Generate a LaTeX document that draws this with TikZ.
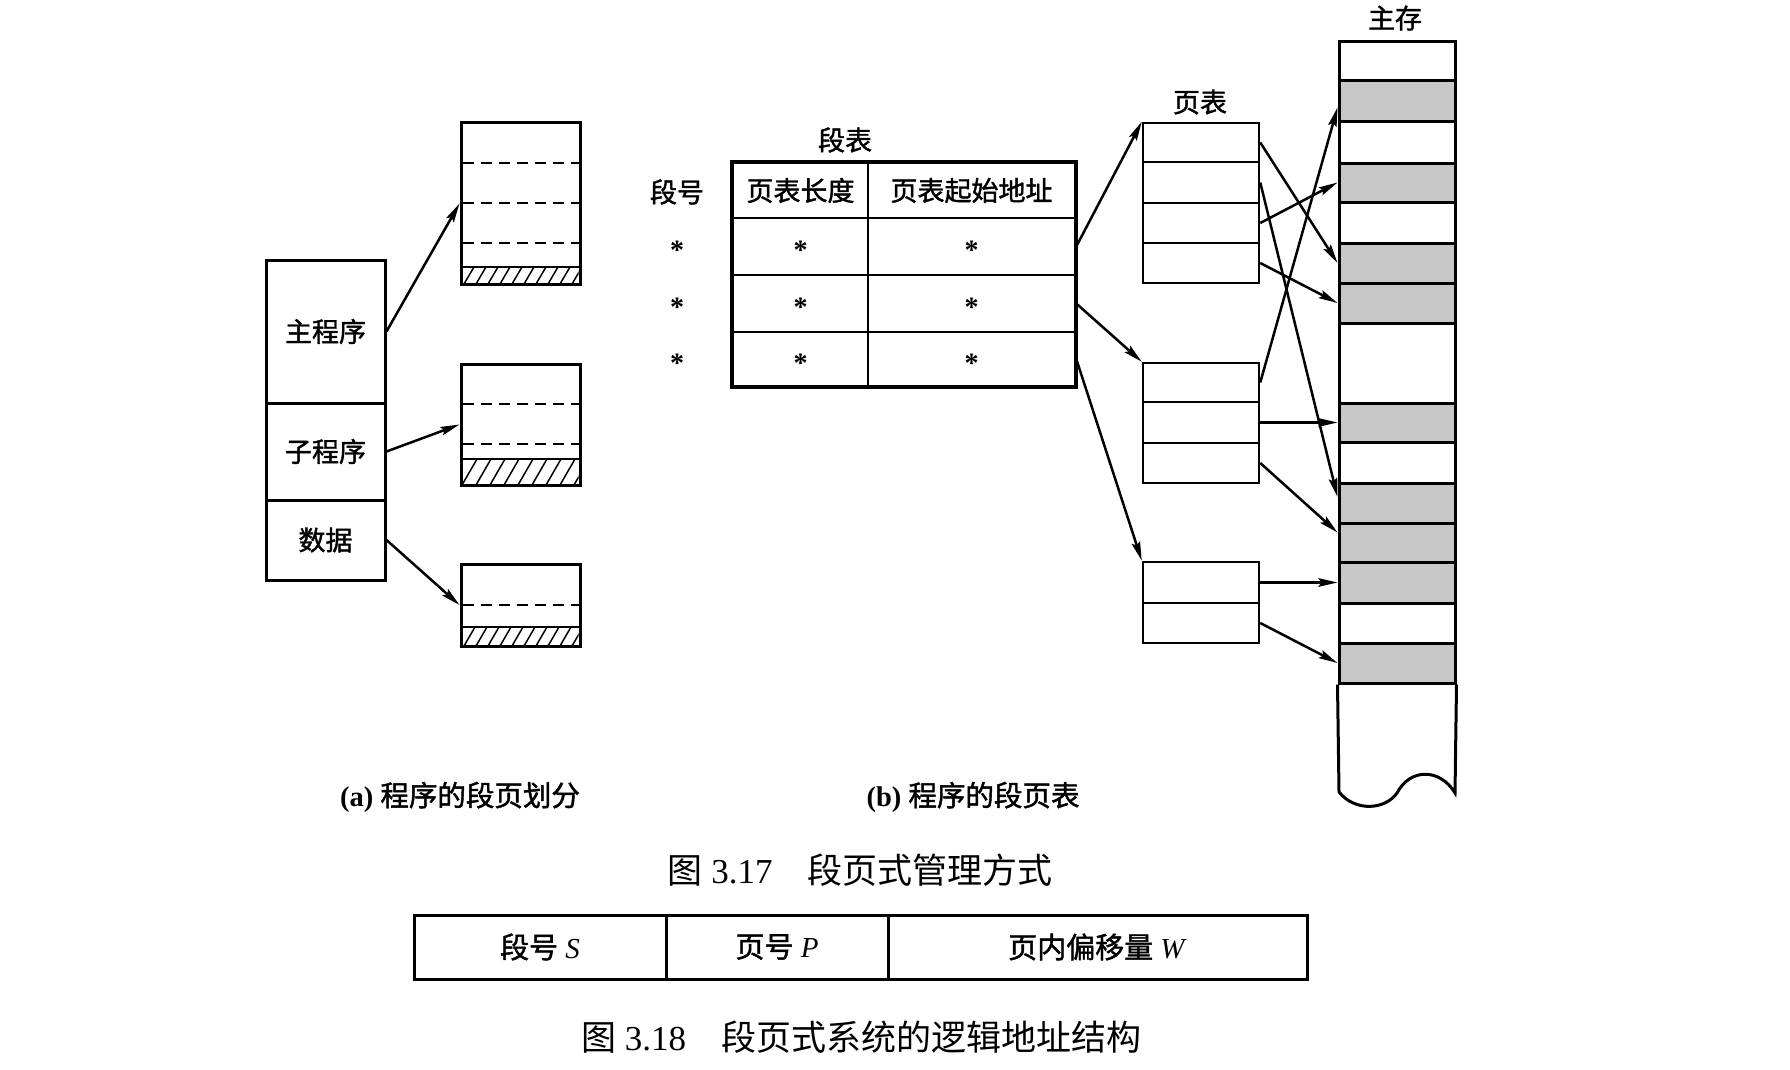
\documentclass[tikz,border=0pt]{standalone}
\usepackage{fontspec}
\setmainfont{Liberation Serif}
\newfontfamily\cjk{Noto Sans CJK SC}
\newfontfamily\cjkb[FakeBold=1.5]{Noto Sans CJK SC}
\usetikzlibrary{arrows.meta}
\begin{document}
\begin{tikzpicture}[x=1pt,y=-1pt,
  lab/.style={inner sep=0pt, font=\cjkb\fontsize{27}{27}\selectfont},
  progcell/.style={draw, line width=3pt, inner sep=0pt, minimum width=119pt, font=\cjkb\fontsize{27}{27}\selectfont},
  segbox/.style={draw, line width=3pt, inner sep=0pt, minimum width=119pt},
  tcell/.style={draw, line width=2.5pt, inner sep=0pt, font=\cjkb\fontsize{27}{27}\selectfont},
  ptcell/.style={draw, line width=2.5pt, inner sep=0pt, minimum width=116pt},
  memw/.style={draw, line width=3pt, inner sep=0pt, minimum width=116pt},
  mems/.style={memw, fill=black!22},
  arr/.style={line width=2.5pt, -{Stealth[length=19pt,width=8.5pt,inset=3pt]}},
  dashline/.style={line width=2pt, dash pattern=on 11pt off 7pt},
  hatchline/.style={line width=1.5pt},
  startext/.style={inner sep=0pt, font=\fontsize{28}{28}\bfseries\selectfont, yshift=-4pt},
  captext/.style={inner sep=0pt, font=\fontsize{35}{35}\selectfont},
  subcaptext/.style={inner sep=0pt, font=\fontsize{28.5}{28.5}\selectfont},
  lacell/.style={draw, line width=3pt, inner sep=0pt, minimum height=64pt, font=\fontsize{29}{29}\selectfont}
]
\fill[white] (0,0) rectangle (1790,1070);
\useasboundingbox (0,0) rectangle (1790,1070);

% ---------- (a) program segments ----------
\node[progcell, minimum height=143pt] (prog1) at (325.5,331.5) {主程序};
\node[progcell, minimum height=97pt] (prog2) at (325.5,451.5) {子程序};
\node[progcell, minimum height=80pt] (prog3) at (325.5,540) {数据};

% segment 1 pages
\draw[dashline] (462.5,163) -- (578.5,163);
\draw[dashline] (462.5,203) -- (578.5,203);
\draw[dashline] (462.5,243) -- (578.5,243);
\begin{scope}
  \clip (462.5,267) rectangle (578.5,282.5);
  \foreach \x in {440,452,...,590} \draw[hatchline] (\x,284) -- ++(10,-17);
\end{scope}
\draw[hatchline] (462.5,267) -- (578.5,267);
\node[segbox, minimum height=161pt] (seg1) at (520.5,203.5) {};

% segment 2 pages
\draw[dashline] (462.5,404) -- (578.5,404);
\draw[dashline] (462.5,444) -- (578.5,444);
\begin{scope}
  \clip (462.5,459) rectangle (578.5,483.5);
  \foreach \x in {434,448,...,590} \draw[hatchline] (\x,485) -- ++(15,-26);
\end{scope}
\draw[hatchline] (462.5,459) -- (578.5,459);
\node[segbox, minimum height=121pt] (seg2) at (520.5,424.5) {};

% segment 3 pages
\draw[dashline] (462.5,605) -- (578.5,605);
\begin{scope}
  \clip (462.5,627) rectangle (578.5,644.5);
  \foreach \x in {440,452,...,590} \draw[hatchline] (\x,646) -- ++(11,-19);
\end{scope}
\draw[hatchline] (462.5,627) -- (578.5,627);
\node[segbox, minimum height=82pt] (seg3) at (520.5,605) {};

\draw[arr] (prog1.east) -- (seg1.west);
\draw[arr] (prog2.east) -- (seg2.west);
\draw[arr] (prog3.east) -- (seg3.west);

% ---------- (b) segment table ----------
\node[lab] (lbltab) at (845,140) {段表};
\node[lab] (lblno) at (677,192) {段号};
\node[tcell, minimum width=135pt, minimum height=55pt] (th1) at (800.5,190.5) {页表长度};
\node[tcell, minimum width=207pt, minimum height=55pt] (th2) at (971.5,190.5) {页表起始地址};
\node[tcell, minimum width=135pt, minimum height=57pt] (t1a) at (800.5,246.5) {};
\node[tcell, minimum width=207pt, minimum height=57pt] (t1b) at (971.5,246.5) {};
\node[tcell, minimum width=135pt, minimum height=57pt] (t2a) at (800.5,303.5) {};
\node[tcell, minimum width=207pt, minimum height=57pt] (t2b) at (971.5,303.5) {};
\node[tcell, minimum width=135pt, minimum height=54pt] (t3a) at (800.5,359) {};
\node[tcell, minimum width=207pt, minimum height=54pt] (t3b) at (971.5,359) {};
\draw[line width=3pt] (th1.north west) rectangle (t3b.south east);
\node[startext] (k1) at (677,246.5) {*};
\node[startext] (k2) at (677,303.5) {*};
\node[startext] (k3) at (677,359) {*};
\node[startext] (s1a) at (t1a) {*};
\node[startext] (s1b) at (t1b) {*};
\node[startext] (s2a) at (t2a) {*};
\node[startext] (s2b) at (t2b) {*};
\node[startext] (s3a) at (t3a) {*};
\node[startext] (s3b) at (t3b) {*};

% ---------- page tables ----------
\node[lab] (lblpt) at (1200,102) {页表};
\node[ptcell, minimum height=39pt] (pt1a) at (1201,142.5) {};
\node[ptcell, minimum height=41pt] (pt1b) at (1201,182.5) {};
\node[ptcell, minimum height=40pt] (pt1c) at (1201,223) {};
\node[ptcell, minimum height=40pt] (pt1d) at (1201,263) {};
\node[ptcell, minimum height=39pt] (pt2a) at (1201,382.5) {};
\node[ptcell, minimum height=41pt] (pt2b) at (1201,422.5) {};
\node[ptcell, minimum height=40pt] (pt2c) at (1201,463) {};
\node[ptcell, minimum height=41pt] (pt3a) at (1201,582.5) {};
\node[ptcell, minimum height=40pt] (pt3b) at (1201,623) {};

\draw[arr] (t1b.east) -- (pt1a.north west);
\draw[arr] (t2b.east) -- (pt2a.north west);
\draw[arr] (t3b.east) -- (pt3a.north west);

% ---------- main memory ----------
\node[lab] (lblmem) at (1395,18) {主存};
\node[memw, minimum height=39pt] (m0) at (1397,61.5) {};
\node[mems, minimum height=41pt] (m1) at (1397,101.5) {};
\node[memw, minimum height=41pt] (m2) at (1397,142.5) {};
\node[mems, minimum height=39pt] (m3) at (1397,182.5) {};
\node[memw, minimum height=41pt] (m4) at (1397,222.5) {};
\node[mems, minimum height=40pt] (m5) at (1397,263) {};
\node[mems, minimum height=40pt] (m6) at (1397,303) {};
\node[memw, minimum height=80pt] (m7) at (1397,363) {};
\node[mems, minimum height=39pt] (m8) at (1397,422.5) {};
\node[memw, minimum height=41pt] (m9) at (1397,462.5) {};
\node[mems, minimum height=40pt] (m10) at (1397,503) {};
\node[mems, minimum height=39pt] (m11) at (1397,542.5) {};
\node[mems, minimum height=41pt] (m12) at (1397,582.5) {};
\node[memw, minimum height=40pt] (m13) at (1397,623) {};
\node[mems, minimum height=40pt] (m14) at (1397,663) {};
\draw[line width=3pt] (m14.south west) -- (1339,792)
  .. controls (1355,812) and (1385,810) .. (1397,793)
  .. controls (1410,768) and (1440,768) .. (1455,793) -- (m14.south east);

\draw[arr] (pt1a.east) -- (m5.west);
\draw[arr] (pt1b.east) -- ([yshift=6pt]m10.west);
\draw[arr] (pt1c.east) -- (m3.west);
\draw[arr] (pt1d.east) -- (m6.west);
\draw[arr] (pt2a.east) -- ([yshift=-6pt]m1.west);
\draw[arr] (pt2b.east) -- (m8.west);
\draw[arr] (pt2c.east) -- ([yshift=10pt]m11.west);
\draw[arr] (pt3a.east) -- (m12.west);
\draw[arr] (pt3b.east) -- (m14.west);

% ---------- captions ----------
\node[subcaptext] (capa) at (460,797) {\textbf{(a)}\ {\cjkb 程序的段页划分}};
\node[subcaptext] (capb) at (973,797) {\textbf{(b)}\ {\cjkb 程序的段页表}};
\node[captext] (cap17) at (860,870) {{\cjk 图}\hspace{0.25em}3.17\hspace{1em}{\cjk 段页式管理方式}};

% ---------- logical address structure ----------
\node[lacell, minimum width=252pt] (la1) at (540,947) {{\cjkb 段号}\ \textit{S}};
\node[lacell, minimum width=222pt] (la2) at (777,947) {{\cjkb 页号}\ \textit{P}};
\node[lacell, minimum width=419pt] (la3) at (1097.5,947) {{\cjkb 页内偏移量}\ \textit{W}};
\node[captext] (cap18) at (861,1037) {{\cjk 图}\hspace{0.25em}3.18\hspace{1em}{\cjk 段页式系统的逻辑地址结构}};
\end{tikzpicture}
\end{document}
